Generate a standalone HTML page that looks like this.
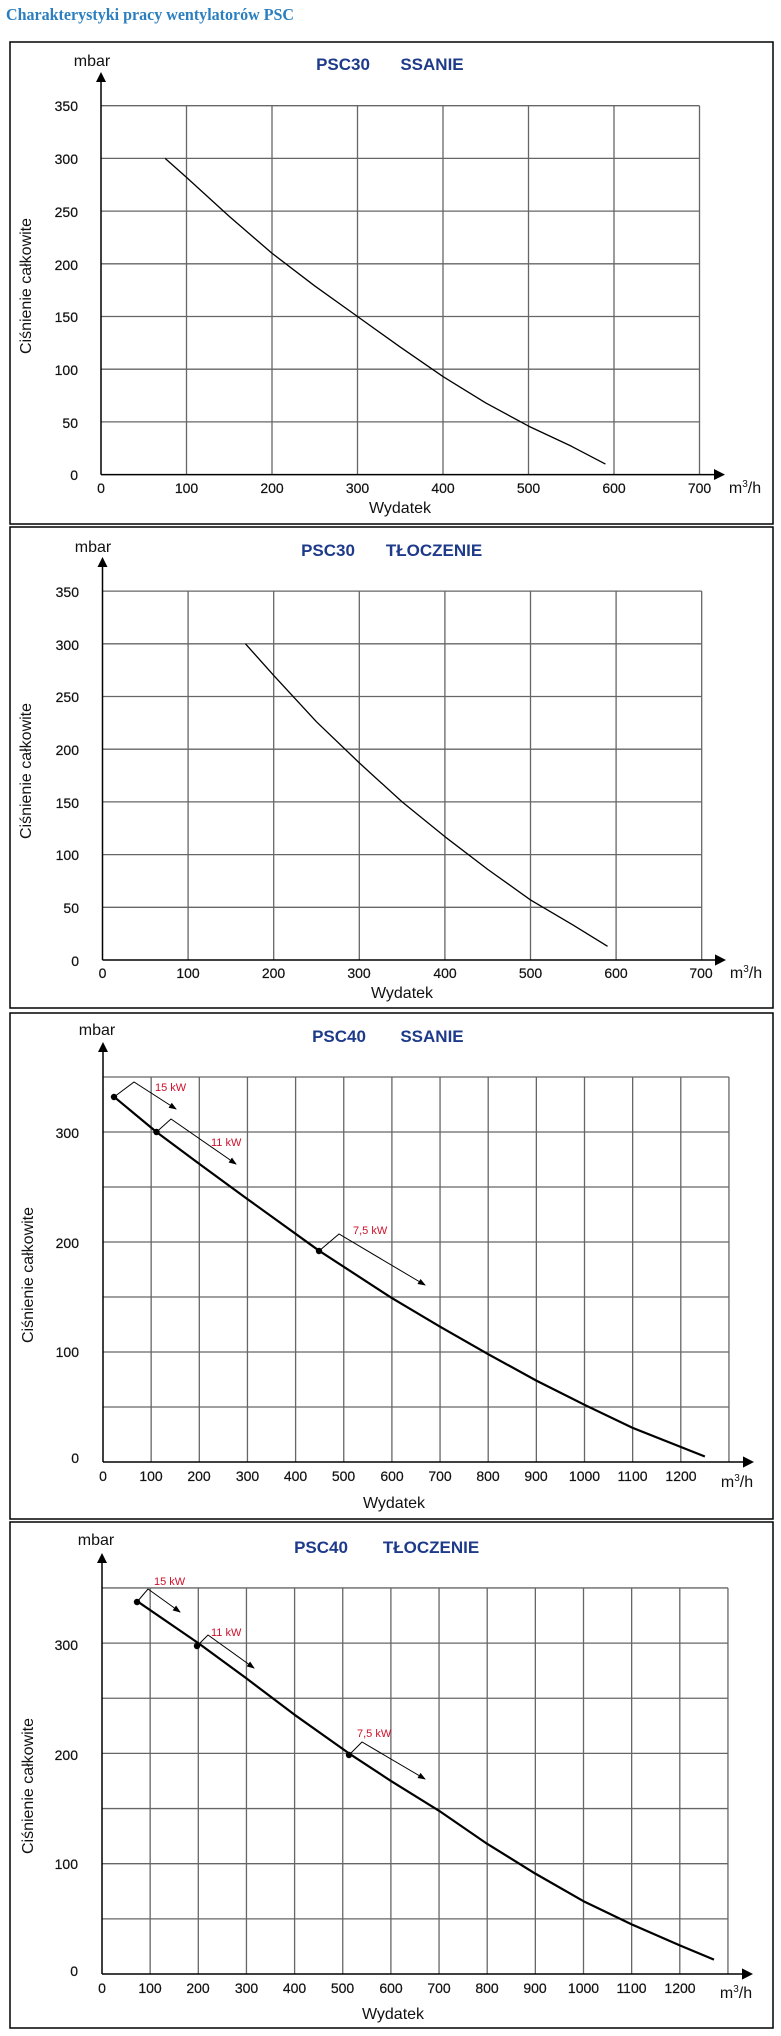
<!DOCTYPE html>
<html><head><meta charset="utf-8"><style>
html,body{margin:0;padding:0;background:#fff;width:781px;height:2036px;overflow:hidden}
svg{display:block}
.h{font-family:"Liberation Serif",serif;font-weight:bold;font-size:17px;fill:#2b7fbf}
.t{font-family:"Liberation Sans",sans-serif;font-weight:bold;font-size:17px;fill:#1e3a8a}
.n{font-family:"Liberation Sans",sans-serif;font-size:14px;fill:#111;stroke:#111;stroke-width:0.2}
.y{font-family:"Liberation Sans",sans-serif;font-size:16px;fill:#111}
.u{font-family:"Liberation Sans",sans-serif;font-size:16px;fill:#111}
.k{font-family:"Liberation Sans",sans-serif;font-size:11px;fill:#d0102a}
.g line{stroke:#666;stroke-width:1.3;vector-effect:non-scaling-stroke}
.c{fill:none;stroke:#000;vector-effect:non-scaling-stroke;stroke-linejoin:round}
.a{fill:none;stroke:#000;stroke-width:1}
</style></head><body>
<svg width="781" height="2036" viewBox="0 0 781 2036" xmlns="http://www.w3.org/2000/svg">
<defs><marker id="ar" markerWidth="8" markerHeight="8" refX="7" refY="4" orient="auto"><path d="M0,1 L8,4 L0,7 z" fill="#000"/></marker></defs>
<text class="h" x="6" y="20" textLength="288" lengthAdjust="spacingAndGlyphs">Charakterystyki pracy wentylatorów PSC</text>

<!-- Panel 1 -->
<rect x="10" y="42" width="763" height="482" fill="none" stroke="#000" stroke-width="1.5"/>
<g class="g" transform="translate(101,474.6) scale(0.855,-1.054)">
<line x1="0" y1="50" x2="700" y2="50"/><line x1="0" y1="100" x2="700" y2="100"/><line x1="0" y1="150" x2="700" y2="150"/><line x1="0" y1="200" x2="700" y2="200"/><line x1="0" y1="250" x2="700" y2="250"/><line x1="0" y1="300" x2="700" y2="300"/><line x1="0" y1="350" x2="700" y2="350"/>
<line x1="100" y1="0" x2="100" y2="350"/><line x1="200" y1="0" x2="200" y2="350"/><line x1="300" y1="0" x2="300" y2="350"/><line x1="400" y1="0" x2="400" y2="350"/><line x1="500" y1="0" x2="500" y2="350"/><line x1="600" y1="0" x2="600" y2="350"/><line x1="700" y1="0" x2="700" y2="350"/>
<polyline class="c" stroke-width="1.3" points="75,300 100,282 150,245 200,210 250,179 300,150 350,121 400,93 450,68 500,46 550,27 590,10"/>
</g>
<line x1="101" y1="474.6" x2="101" y2="80" stroke="#000" stroke-width="1.5"/><path d="M96,82 L101,72 L106,82z"/>
<line x1="101" y1="474.6" x2="716" y2="474.6" stroke="#000" stroke-width="1.5"/><path d="M714,469 L725,474.6 L714,480z"/>
<text class="u" x="92" y="66" text-anchor="middle">mbar</text>
<text class="t" x="343" y="70" text-anchor="middle">PSC30</text><text class="t" x="432" y="70" text-anchor="middle">SSANIE</text>
<g class="n" text-anchor="end"><text x="78" y="111">350</text><text x="78" y="164">300</text><text x="78" y="217">250</text><text x="78" y="270">200</text><text x="78" y="322">150</text><text x="78" y="375">100</text><text x="78" y="428">50</text><text x="78" y="480">0</text></g>
<g class="n" text-anchor="middle"><text x="101" y="493">0</text><text x="186.5" y="493">100</text><text x="272" y="493">200</text><text x="357.5" y="493">300</text><text x="443" y="493">400</text><text x="528.5" y="493">500</text><text x="614" y="493">600</text><text x="699.5" y="493">700</text></g>
<text class="u" x="745" y="493" text-anchor="middle">m<tspan font-size="10" dy="-6">3</tspan><tspan dy="6">/h</tspan></text>
<text class="u" x="400" y="513" text-anchor="middle">Wydatek</text>
<text class="y" transform="translate(31,286) rotate(-90)" text-anchor="middle">Ciśnienie całkowite</text>

<!-- Panel 2 -->
<rect x="10" y="527" width="763" height="481" fill="none" stroke="#000" stroke-width="1.5"/>
<g class="g" transform="translate(102.5,960) scale(0.856,-1.054)">
<line x1="0" y1="50" x2="700" y2="50"/><line x1="0" y1="100" x2="700" y2="100"/><line x1="0" y1="150" x2="700" y2="150"/><line x1="0" y1="200" x2="700" y2="200"/><line x1="0" y1="250" x2="700" y2="250"/><line x1="0" y1="300" x2="700" y2="300"/><line x1="0" y1="350" x2="700" y2="350"/>
<line x1="100" y1="0" x2="100" y2="350"/><line x1="200" y1="0" x2="200" y2="350"/><line x1="300" y1="0" x2="300" y2="350"/><line x1="400" y1="0" x2="400" y2="350"/><line x1="500" y1="0" x2="500" y2="350"/><line x1="600" y1="0" x2="600" y2="350"/><line x1="700" y1="0" x2="700" y2="350"/>
<polyline class="c" stroke-width="1.3" points="167,300 200,270 250,226 300,187 350,150 400,117 450,86 500,57 550,33 590,13"/>
</g>
<line x1="102.5" y1="960" x2="102.5" y2="565" stroke="#000" stroke-width="1.5"/><path d="M97.5,567 L102.5,557 L107.5,567z"/>
<line x1="102.5" y1="960" x2="717" y2="960" stroke="#000" stroke-width="1.5"/><path d="M715,954.4 L726,960 L715,965.6z"/>
<text class="u" x="93" y="552" text-anchor="middle">mbar</text>
<text class="t" x="328" y="556" text-anchor="middle">PSC30</text><text class="t" x="434" y="556" text-anchor="middle">TŁOCZENIE</text>
<g class="n" text-anchor="end"><text x="79" y="597">350</text><text x="79" y="650">300</text><text x="79" y="702">250</text><text x="79" y="755">200</text><text x="79" y="808">150</text><text x="79" y="860">100</text><text x="79" y="913">50</text><text x="79" y="966">0</text></g>
<g class="n" text-anchor="middle"><text x="102.5" y="978">0</text><text x="188" y="978">100</text><text x="273.5" y="978">200</text><text x="359" y="978">300</text><text x="445" y="978">400</text><text x="530.5" y="978">500</text><text x="616" y="978">600</text><text x="701" y="978">700</text></g>
<text class="u" x="746" y="978" text-anchor="middle">m<tspan font-size="10" dy="-6">3</tspan><tspan dy="6">/h</tspan></text>
<text class="u" x="402" y="998" text-anchor="middle">Wydatek</text>
<text class="y" transform="translate(31,771) rotate(-90)" text-anchor="middle">Ciśnienie całkowite</text>

<!-- Panel 3 -->
<rect x="10" y="1013" width="763" height="506" fill="none" stroke="#000" stroke-width="1.5"/>
<g class="g" transform="translate(103,1462) scale(0.4815,-1.1)">
<line x1="0" y1="50" x2="1300" y2="50"/><line x1="0" y1="100" x2="1300" y2="100"/><line x1="0" y1="150" x2="1300" y2="150"/><line x1="0" y1="200" x2="1300" y2="200"/><line x1="0" y1="250" x2="1300" y2="250"/><line x1="0" y1="300" x2="1300" y2="300"/><line x1="0" y1="350" x2="1300" y2="350"/>
<line x1="100" y1="0" x2="100" y2="350"/><line x1="200" y1="0" x2="200" y2="350"/><line x1="300" y1="0" x2="300" y2="350"/><line x1="400" y1="0" x2="400" y2="350"/><line x1="500" y1="0" x2="500" y2="350"/><line x1="600" y1="0" x2="600" y2="350"/><line x1="700" y1="0" x2="700" y2="350"/><line x1="800" y1="0" x2="800" y2="350"/><line x1="900" y1="0" x2="900" y2="350"/><line x1="1000" y1="0" x2="1000" y2="350"/><line x1="1100" y1="0" x2="1100" y2="350"/><line x1="1200" y1="0" x2="1200" y2="350"/><line x1="1300" y1="0" x2="1300" y2="350"/>
<polyline class="c" stroke-width="2.2" points="23,332 111,300 200,271 300,239 449,192 600,149 700,123 800,98 900,74 1000,52 1100,31 1250,5"/>
</g>
<line x1="103" y1="1462" x2="103" y2="1050" stroke="#000" stroke-width="1.5"/><path d="M98,1052 L103,1042 L108,1052z"/>
<line x1="103" y1="1462" x2="745" y2="1462" stroke="#000" stroke-width="1.5"/><path d="M743,1456.4 L754,1462 L743,1467.6z"/>
<circle cx="114" cy="1097" r="3.2"/><circle cx="156.5" cy="1132" r="3.2"/><circle cx="319" cy="1251" r="3.2"/>
<polyline class="a" points="114,1097 134,1082 176,1109" marker-end="url(#ar)"/>
<polyline class="a" points="156.5,1132 171,1119 236,1164" marker-end="url(#ar)"/>
<polyline class="a" points="319,1251 339,1234 425,1285" marker-end="url(#ar)"/>
<text class="k" x="155" y="1091">15 kW</text><text class="k" x="211" y="1146">11 kW</text><text class="k" x="353" y="1234">7,5 kW</text>
<text class="u" x="97" y="1035" text-anchor="middle">mbar</text>
<text class="t" x="339" y="1042" text-anchor="middle">PSC40</text><text class="t" x="432" y="1042" text-anchor="middle">SSANIE</text>
<g class="n" text-anchor="end"><text x="79" y="1138">300</text><text x="79" y="1248">200</text><text x="79" y="1357">100</text><text x="79" y="1463">0</text></g>
<g class="n" text-anchor="middle"><text x="103" y="1481">0</text><text x="151" y="1481">100</text><text x="199" y="1481">200</text><text x="247.5" y="1481">300</text><text x="295.5" y="1481">400</text><text x="343.5" y="1481">500</text><text x="392" y="1481">600</text><text x="440" y="1481">700</text><text x="488" y="1481">800</text><text x="536" y="1481">900</text><text x="584.5" y="1481">1000</text><text x="632.5" y="1481">1100</text><text x="681" y="1481">1200</text></g>
<text class="u" x="737" y="1487" text-anchor="middle">m<tspan font-size="10" dy="-6">3</tspan><tspan dy="6">/h</tspan></text>
<text class="u" x="394" y="1508" text-anchor="middle">Wydatek</text>
<text class="y" transform="translate(33,1275) rotate(-90)" text-anchor="middle">Ciśnienie całkowite</text>

<!-- Panel 4 -->
<rect x="10" y="1522" width="763" height="506" fill="none" stroke="#000" stroke-width="1.5"/>
<g class="g" transform="translate(102,1974) scale(0.4815,-1.103)">
<line x1="0" y1="50" x2="1300" y2="50"/><line x1="0" y1="100" x2="1300" y2="100"/><line x1="0" y1="150" x2="1300" y2="150"/><line x1="0" y1="200" x2="1300" y2="200"/><line x1="0" y1="250" x2="1300" y2="250"/><line x1="0" y1="300" x2="1300" y2="300"/><line x1="0" y1="350" x2="1300" y2="350"/>
<line x1="100" y1="0" x2="100" y2="350"/><line x1="200" y1="0" x2="200" y2="350"/><line x1="300" y1="0" x2="300" y2="350"/><line x1="400" y1="0" x2="400" y2="350"/><line x1="500" y1="0" x2="500" y2="350"/><line x1="600" y1="0" x2="600" y2="350"/><line x1="700" y1="0" x2="700" y2="350"/><line x1="800" y1="0" x2="800" y2="350"/><line x1="900" y1="0" x2="900" y2="350"/><line x1="1000" y1="0" x2="1000" y2="350"/><line x1="1100" y1="0" x2="1100" y2="350"/><line x1="1200" y1="0" x2="1200" y2="350"/><line x1="1300" y1="0" x2="1300" y2="350"/>
<polyline class="c" stroke-width="2.2" points="73,338 200,300 300,268 400,235 513,200 600,175 700,148 800,118 900,91 1000,66 1100,45 1200,26 1271,13"/>
</g>
<line x1="102" y1="1974" x2="102" y2="1561" stroke="#000" stroke-width="1.5"/><path d="M97,1563 L102,1553 L107,1563z"/>
<line x1="102" y1="1974" x2="744" y2="1974" stroke="#000" stroke-width="1.5"/><path d="M742,1968.4 L753,1974 L742,1979.6z"/>
<circle cx="137" cy="1602" r="3.2"/><circle cx="197" cy="1646" r="3.2"/><circle cx="349" cy="1755" r="3.2"/>
<polyline class="a" points="137,1602 148,1589 180,1612" marker-end="url(#ar)"/>
<polyline class="a" points="197,1646 208,1635 254,1668" marker-end="url(#ar)"/>
<polyline class="a" points="349,1755 362,1742 425,1779" marker-end="url(#ar)"/>
<text class="k" x="154" y="1585">15 kW</text><text class="k" x="211" y="1636">11 kW</text><text class="k" x="357" y="1737">7,5 kW</text>
<text class="u" x="96" y="1545" text-anchor="middle">mbar</text>
<text class="t" x="321" y="1553" text-anchor="middle">PSC40</text><text class="t" x="431" y="1553" text-anchor="middle">TŁOCZENIE</text>
<g class="n" text-anchor="end"><text x="78" y="1650">300</text><text x="78" y="1760">200</text><text x="78" y="1869">100</text><text x="78" y="1976">0</text></g>
<g class="n" text-anchor="middle"><text x="102" y="1993">0</text><text x="150" y="1993">100</text><text x="198" y="1993">200</text><text x="246.5" y="1993">300</text><text x="294.5" y="1993">400</text><text x="342.5" y="1993">500</text><text x="391" y="1993">600</text><text x="439" y="1993">700</text><text x="487" y="1993">800</text><text x="535" y="1993">900</text><text x="583.5" y="1993">1000</text><text x="631.5" y="1993">1100</text><text x="680" y="1993">1200</text></g>
<text class="u" x="736" y="1998" text-anchor="middle">m<tspan font-size="10" dy="-6">3</tspan><tspan dy="6">/h</tspan></text>
<text class="u" x="393" y="2019" text-anchor="middle">Wydatek</text>
<text class="y" transform="translate(33,1786) rotate(-90)" text-anchor="middle">Ciśnienie całkowite</text>
</svg>
</body></html>
